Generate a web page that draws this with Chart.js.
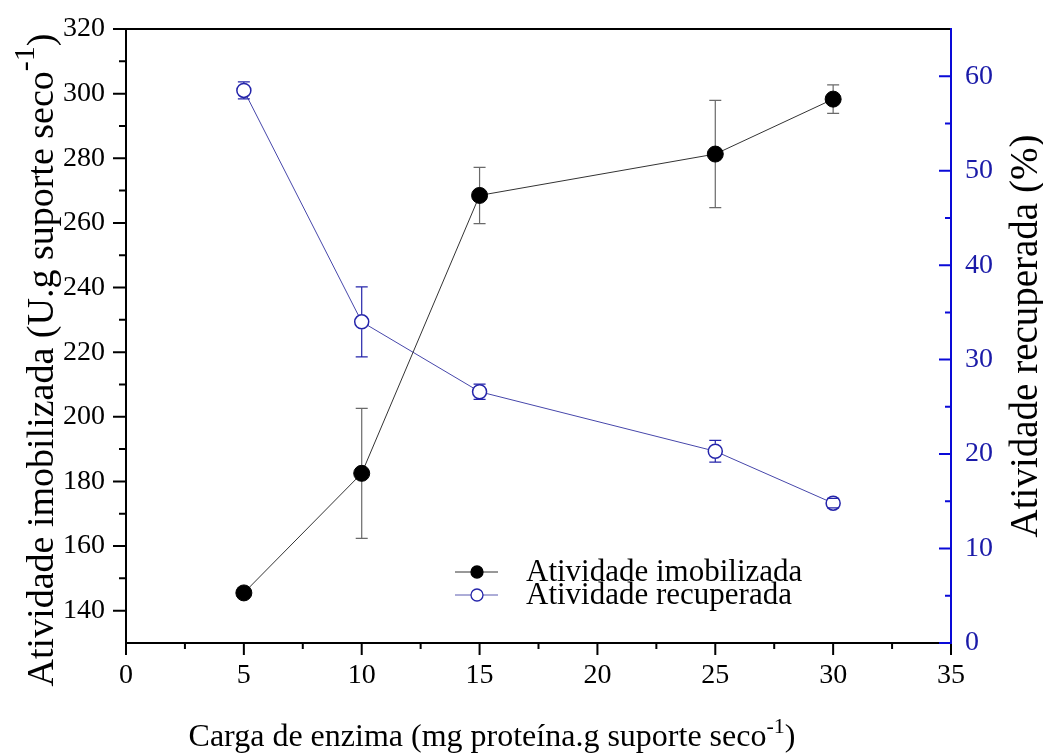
<!DOCTYPE html>
<html>
<head>
<meta charset="utf-8">
<script src="https://cdn.jsdelivr.net/npm/chart.js@4.4.1/dist/chart.umd.min.js"></script>
<style>
  html, body { margin: 0; padding: 0; background: #ffffff; }
  #wrap { width: 1043px; height: 753px; }
</style>
</head>
<body>
<div id="wrap"><canvas id="c" width="1043" height="753"></canvas></div>
<script>
// Enzyme loading (mg protein per g of dry support)
const loadings = [5, 10, 15, 25, 30];
// Immobilized activity (U per g dry support) and its standard deviation
const immobilized = [145.5, 182.5, 268.5, 281.3, 298.3];
const immobilizedErr = [1.5, 20.1, 8.7, 16.6, 4.4];
// Recovered activity (%) and its standard deviation
const recovered = [58.5, 34.0, 26.6, 20.3, 14.8];
const recoveredErr = [0.9, 3.7, 0.8, 1.15, 0.5];

// Tick positions
const xTicks = [0, 5, 10, 15, 20, 25, 30, 35];
const xMinor = [2.5, 7.5, 12.5, 17.5, 22.5, 27.5, 32.5];
const leftTicks = [140, 160, 180, 200, 220, 240, 260, 280, 300, 320];
const leftMinor = [150, 170, 190, 210, 230, 250, 270, 290, 310];
const rightTicks = [0, 10, 20, 30, 40, 50, 60];
const rightMinor = [5, 15, 25, 35, 45, 55];

const SERIF = "'Liberation Serif', 'Times New Roman', serif";
const BLUE_AXIS = '#0a0ad8';
const BLUE_TEXT = '#1a1aa8';
const BLUE_LINE = '#4646aa';
const BLUE_MARK = '#2424aa';
const GREY_ERR = '#6a6a6a';

// Draws a run of text pieces where some pieces are superscripts.
function drawRich(ctx, parts, size, supSize, supRise) {
  let total = 0;
  const widths = parts.map(p => {
    ctx.font = (p.sup ? supSize : size) + 'px ' + SERIF;
    const w = ctx.measureText(p.t).width;
    total += w;
    return w;
  });
  let x = -total / 2;
  parts.forEach((p, i) => {
    ctx.font = (p.sup ? supSize : size) + 'px ' + SERIF;
    ctx.fillText(p.t, x, p.sup ? -supRise : 0);
    x += widths[i];
  });
}

function drawErrorBars(chart, dsIndex, errors, color, gap) {
  const ctx = chart.ctx;
  const meta = chart.getDatasetMeta(dsIndex);
  const yScale = chart.scales[meta.yAxisID];
  const xScale = chart.scales.x;
  const vals = chart.data.datasets[dsIndex].data;
  ctx.save();
  ctx.strokeStyle = color;
  ctx.lineWidth = 1.2;
  vals.forEach((p, i) => {
    const px = xScale.getPixelForValue(p.x);
    const py = yScale.getPixelForValue(p.y);
    const top = yScale.getPixelForValue(p.y + errors[i]);
    const bot = yScale.getPixelForValue(p.y - errors[i]);
    ctx.beginPath();
    if (top < py - gap) { ctx.moveTo(px, top); ctx.lineTo(px, py - gap); }
    if (bot > py + gap) { ctx.moveTo(px, py + gap); ctx.lineTo(px, bot); }
    ctx.moveTo(px - 6, top); ctx.lineTo(px + 6, top);
    ctx.moveTo(px - 6, bot); ctx.lineTo(px + 6, bot);
    ctx.stroke();
  });
  ctx.restore();
}

const decorPlugin = {
  id: 'decor',
  beforeDatasetsDraw(chart) {
    drawErrorBars(chart, 0, immobilizedErr, GREY_ERR, 0);
  },
  afterDatasetsDraw(chart) {
    drawErrorBars(chart, 1, recoveredErr, BLUE_MARK, 7.5);
  },
  afterDraw(chart) {
    const ctx = chart.ctx;
    const a = chart.chartArea;
    const sx = chart.scales.x, sy = chart.scales.y, sy2 = chart.scales.y2;
    ctx.save();
    ctx.lineCap = 'butt';

    // Frame: black on top, left and bottom
    ctx.strokeStyle = '#000';
    ctx.lineWidth = 2;
    ctx.beginPath();
    ctx.moveTo(a.right, a.top); ctx.lineTo(a.left, a.top);
    ctx.lineTo(a.left, a.bottom); ctx.lineTo(a.right, a.bottom);
    ctx.stroke();

    // Bottom ticks (outward)
    ctx.beginPath();
    xTicks.forEach(v => { const p = sx.getPixelForValue(v); ctx.moveTo(p, a.bottom); ctx.lineTo(p, a.bottom + 12); });
    xMinor.forEach(v => { const p = sx.getPixelForValue(v); ctx.moveTo(p, a.bottom); ctx.lineTo(p, a.bottom + 6); });
    // Left ticks (outward)
    leftTicks.forEach(v => { const p = sy.getPixelForValue(v); ctx.moveTo(a.left, p); ctx.lineTo(a.left - 13, p); });
    leftMinor.forEach(v => { const p = sy.getPixelForValue(v); ctx.moveTo(a.left, p); ctx.lineTo(a.left - 7, p); });
    ctx.stroke();

    // Right axis in blue, ticks pointing inward
    ctx.strokeStyle = BLUE_AXIS;
    ctx.beginPath();
    ctx.moveTo(a.right, a.top - 1); ctx.lineTo(a.right, a.bottom + 1);
    rightTicks.forEach(v => { const p = sy2.getPixelForValue(v); ctx.moveTo(a.right, p); ctx.lineTo(a.right - 12, p); });
    rightMinor.forEach(v => { const p = sy2.getPixelForValue(v); ctx.moveTo(a.right, p); ctx.lineTo(a.right - 6, p); });
    ctx.stroke();
    // Bottom tick at 35 below the blue axis stays black
    ctx.strokeStyle = '#000';
    ctx.beginPath();
    ctx.moveTo(a.right, a.bottom + 1); ctx.lineTo(a.right, a.bottom + 12);
    ctx.stroke();

    // Axis titles
    ctx.fillStyle = '#000';
    ctx.textBaseline = 'alphabetic';
    ctx.textAlign = 'left';
    ctx.save();
    ctx.translate(492, 746);
    drawRich(ctx, [
      { t: 'Carga de enzima (mg proteína.g suporte seco' },
      { t: '-1', sup: true },
      { t: ')' }
    ], 32, 22, 13);
    ctx.restore();

    ctx.save();
    ctx.translate(53, 360);
    ctx.rotate(-Math.PI / 2);
    drawRich(ctx, [
      { t: 'Atividade imobilizada (U.g suporte seco' },
      { t: '-1', sup: true },
      { t: ')' }
    ], 38, 30, 19);
    ctx.restore();

    ctx.save();
    ctx.translate(1037, 336);
    ctx.rotate(-Math.PI / 2);
    drawRich(ctx, [{ t: 'Atividade recuperada (%)' }], 39, 30, 0);
    ctx.restore();

    // Legend
    const rows = [
      { y: 572, label: 'Atividade imobilizada', line: '#333', fill: '#000', stroke: '#000' },
      { y: 595, label: 'Atividade recuperada', line: '#5a5ab0', fill: '#fff', stroke: BLUE_MARK }
    ];
    rows.forEach(r => {
      ctx.strokeStyle = r.line;
      ctx.lineWidth = 1;
      ctx.beginPath();
      ctx.moveTo(455, r.y); ctx.lineTo(498, r.y);
      ctx.stroke();
      ctx.beginPath();
      ctx.arc(477, r.y, 6, 0, Math.PI * 2);
      ctx.fillStyle = r.fill;
      ctx.fill();
      ctx.strokeStyle = r.stroke;
      ctx.lineWidth = 1.3;
      ctx.stroke();
      ctx.fillStyle = '#000';
      ctx.font = '31px ' + SERIF;
      ctx.textAlign = 'left';
      ctx.textBaseline = 'alphabetic';
      ctx.fillText(r.label, 526, r.y + 9);
    });
    ctx.restore();
  }
};

new Chart(document.getElementById('c'), {
  type: 'scatter',
  data: {
    datasets: [
      {
        label: 'Atividade imobilizada',
        data: loadings.map((x, i) => ({ x: x, y: immobilized[i] })),
        yAxisID: 'y',
        showLine: true,
        borderColor: '#333333',
        borderWidth: 1,
        pointRadius: 8,
        pointBackgroundColor: '#000000',
        pointBorderColor: '#000000',
        pointBorderWidth: 1
      },
      {
        label: 'Atividade recuperada',
        data: loadings.map((x, i) => ({ x: x, y: recovered[i] })),
        yAxisID: 'y2',
        showLine: true,
        borderColor: BLUE_LINE,
        borderWidth: 1,
        pointRadius: 7,
        pointBackgroundColor: '#ffffff',
        pointBorderColor: BLUE_MARK,
        pointBorderWidth: 1.5
      }
    ]
  },
  options: {
    responsive: false,
    animation: false,
    devicePixelRatio: 1,
    layout: { padding: { top: 29, left: 0, right: 0, bottom: 0 } },
    plugins: { legend: { display: false }, tooltip: { enabled: false } },
    scales: {
      x: {
        type: 'linear',
        min: 0, max: 35,
        grid: { display: false, drawTicks: false },
        border: { display: false },
        afterBuildTicks: s => { s.ticks = xTicks.map(v => ({ value: v })); },
        afterFit: s => { s.height = 110; s.paddingLeft = 0; s.paddingRight = 0; },
        ticks: { color: '#000', padding: 16, maxRotation: 0, font: { family: SERIF, size: 28 } }
      },
      y: {
        type: 'linear',
        position: 'left',
        min: 130, max: 320,
        grid: { display: false, drawTicks: false },
        border: { display: false },
        afterBuildTicks: s => { s.ticks = leftTicks.map(v => ({ value: v })); },
        afterFit: s => { s.width = 126; s.paddingTop = 0; s.paddingBottom = 0; },
        ticks: { color: '#000', padding: 21, font: { family: SERIF, size: 28 } }
      },
      y2: {
        type: 'linear',
        position: 'right',
        min: 0, max: 65,
        grid: { display: false, drawTicks: false },
        border: { display: false },
        afterBuildTicks: s => { s.ticks = rightTicks.map(v => ({ value: v })); },
        afterFit: s => { s.width = 92; s.paddingTop = 0; s.paddingBottom = 0; },
        ticks: { color: BLUE_TEXT, padding: 14, font: { family: SERIF, size: 28 } }
      }
    }
  },
  plugins: [decorPlugin]
});
</script>
</body>
</html>
